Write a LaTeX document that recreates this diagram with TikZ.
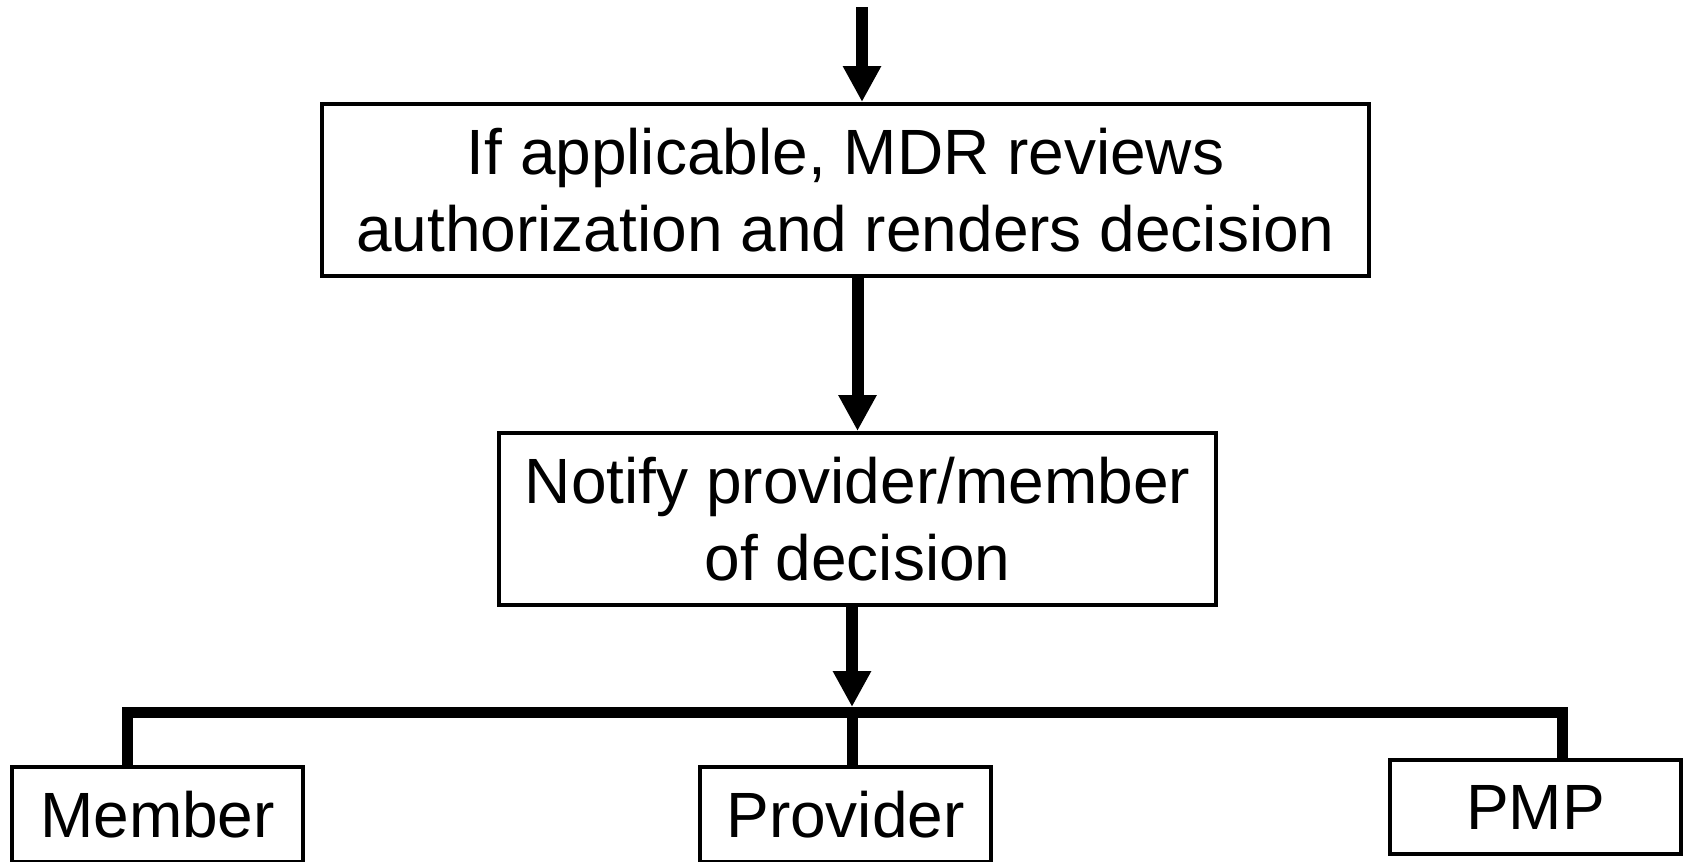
\documentclass[tikz,border=0pt]{standalone}
\usepackage{fontspec}
\setmainfont{Liberation Sans}
\usetikzlibrary{arrows.meta}
\begin{document}
\begin{tikzpicture}[x=1pt,y=-1pt,
  box/.style={draw,line width=4pt,inner sep=0pt,align=center,font=\fontsize{64}{77}\selectfont},
  flow/.style={line width=12pt,-{Triangle[width=36pt,length=36pt]}},
  bus/.style={line width=11pt}]
\useasboundingbox (0,0) rectangle (1690,862);
\node[box,minimum width=1047pt,minimum height=172pt] (mdr) at (845.5,190) {If applicable, MDR reviews\\authorization and renders decision};
\node[box,minimum width=717pt,minimum height=172pt] (note) at (857.5,519) {Notify provider/member\\of decision};
\node[box,minimum width=291pt,minimum height=95pt] (mem) at (157.5,814.5) {\raisebox{-3pt}{Member}};
\node[box,minimum width=291pt,minimum height=95pt] (prov) at (845.5,814.5) {\raisebox{-3pt}{Provider}};
\node[box,minimum width=291pt,minimum height=94pt] (pmp) at (1535.5,807) {\raisebox{-5pt}{PMP}};
\coordinate (top) at (862,7);
\coordinate (bar) at (852,707);
\coordinate (busL) at (127,712);
\coordinate (busR) at (1562,712);
\draw[flow] (top) -- (top |- mdr.north);
\draw[flow] (mdr.south -| note.north) -- (note.north);
\draw[flow] (note.south -| bar) -- (bar);
\draw[bus] (mem.north -| busL) -- (busL) -- (busR) -- (pmp.north -| busR);
\draw[bus] (busL -| bar) -- (prov.north -| bar);
\end{tikzpicture}
\end{document}
